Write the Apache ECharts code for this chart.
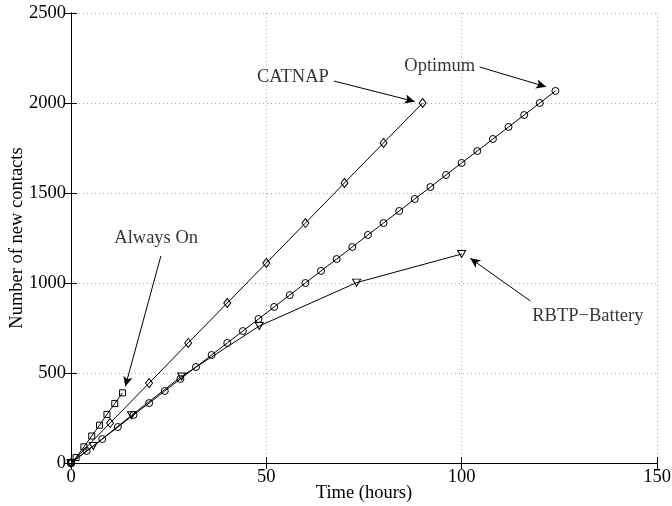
<!DOCTYPE html>
<html>
<head>
<meta charset="utf-8">
<script src="https://cdn.jsdelivr.net/npm/echarts@6/dist/echarts.min.js"></script>
<style>
  html, body { margin: 0; padding: 0; background: #fff; }
  #chart { width: 672px; height: 506px; }
</style>
</head>
<body>
<div id="chart"></div>
<script>
// Cumulative number of new contacts over time for four strategies
const alwaysOnHours = [0, 1.3, 3.3, 5.3, 7.3, 9.2, 11.2, 13.2];
const alwaysOnContacts = [0, 30, 90, 150, 210, 270, 330, 390];

const catnapHours = [0, 10, 20, 30, 40, 50, 60, 70, 80, 90];
const catnapContacts = [0, 222, 444, 667, 889, 1111, 1333, 1556, 1778, 2000];

const optimumHours = [0, 4, 8, 12, 16, 20, 24, 28, 32, 36, 40, 44, 48, 52, 56, 60,
  64, 68, 72, 76, 80, 84, 88, 92, 96, 100, 104, 108, 112, 116, 120, 124];
const optimumContacts = [0, 67, 133, 200, 267, 333, 400, 467, 533, 600, 667, 733, 800, 867, 933, 1000,
  1067, 1133, 1200, 1267, 1333, 1400, 1467, 1533, 1600, 1667, 1733, 1800, 1867, 1933, 2000, 2067];

const rbtpHours = [0, 5.7, 15.5, 28.3, 48.2, 73.1, 100];
const rbtpContacts = [0, 94, 265, 481, 761, 1002, 1161];

const xTicks = [0, 50, 100, 150];
const yTicks = [0, 500, 1000, 1500, 2000, 2500];

// Callout labels with their arrows, in data units
const callouts = [
  { text: 'Always On',    at: [21.8, 1248], from: [23.0, 1150], to: [13.9, 425] },
  { text: 'CATNAP',       at: [56.8, 2144], from: [67.3, 2122], to: [88.0, 2008] },
  { text: 'Optimum',      at: [94.4, 2203], from: [104.6, 2200], to: [121.6, 2090] },
  { text: 'RBTP\u2212Battery', at: [132.3, 815], from: [117.6, 900], to: [102.2, 1137] }
];

const FONT = 'Liberation Serif';
const FS = 18.5;

function pairs(xs, ys) { return xs.map((x, i) => [x, ys[i]]); }

function lineSeries(name, xs, ys, symbol, size, rotate) {
  return {
    name: name,
    type: 'line',
    data: pairs(xs, ys),
    symbol: symbol,
    symbolSize: size,
    symbolRotate: rotate || 0,
    showAllSymbol: true,
    lineStyle: { color: '#000', width: 1 },
    itemStyle: { color: 'rgba(0,0,0,0)', borderColor: '#000', borderWidth: 1 },
    emphasis: { disabled: true },
    z: 3,
    animation: false
  };
}

const chart = echarts.init(document.getElementById('chart'), null, { renderer: 'canvas' });

const axisText = { color: '#000', fontFamily: FONT, fontSize: FS };
const plainNumber = v => String(v);

const option = {
  backgroundColor: '#fff',
  animation: false,
  grid: { left: 71, right: 15, top: 13, bottom: 43, containLabel: false, outerBoundsMode: 'none' },
  xAxis: [
    {
      type: 'value', min: xTicks[0], max: xTicks[xTicks.length - 1], interval: xTicks[1] - xTicks[0],
      position: 'bottom',
      name: 'Time (hours)', nameLocation: 'middle', nameGap: 21, nameMoveOverlap: false,
      nameTextStyle: axisText,
      axisLine: { show: true, lineStyle: { color: '#000', width: 1 } },
      axisTick: { show: true, inside: true, length: 6, lineStyle: { color: '#000' } },
      axisLabel: Object.assign({ margin: 5, formatter: plainNumber }, axisText),
      splitLine: { show: true, lineStyle: { color: '#a8a8a8', type: [1, 3], width: 1 } }
    },
    {
      type: 'value', min: xTicks[0], max: xTicks[xTicks.length - 1], interval: xTicks[1] - xTicks[0],
      position: 'top',
      axisLine: { show: true, lineStyle: { color: '#000', width: 1 } },
      axisTick: { show: true, inside: true, length: 6, lineStyle: { color: '#000' } },
      axisLabel: { show: false },
      splitLine: { show: false }
    }
  ],
  yAxis: [
    {
      type: 'value', min: yTicks[0], max: yTicks[yTicks.length - 1], interval: yTicks[1] - yTicks[0],
      position: 'left',
      name: 'Number of new contacts', nameLocation: 'middle', nameGap: 44, nameMoveOverlap: false,
      nameTextStyle: axisText,
      axisLine: { show: true, lineStyle: { color: '#000', width: 1 } },
      axisTick: { show: true, inside: true, length: 6, lineStyle: { color: '#000' } },
      axisLabel: Object.assign({ margin: 5, formatter: plainNumber }, axisText),
      splitLine: { show: true, lineStyle: { color: '#a8a8a8', type: [1, 3], width: 1 } }
    },
    {
      type: 'value', min: yTicks[0], max: yTicks[yTicks.length - 1], interval: yTicks[1] - yTicks[0],
      position: 'right',
      axisLine: { show: true, lineStyle: { color: '#000', width: 1 } },
      axisTick: { show: true, inside: true, length: 6, lineStyle: { color: '#000' } },
      axisLabel: { show: false },
      splitLine: { show: false }
    }
  ],
  series: [
    lineSeries('Always On', alwaysOnHours, alwaysOnContacts, 'rect', 6),
    lineSeries('CATNAP', catnapHours, catnapContacts, 'diamond', [7, 9]),
    lineSeries('Optimum', optimumHours, optimumContacts, 'circle', 7),
    lineSeries('RBTP\u2212Battery', rbtpHours, rbtpContacts, 'triangle', [8, 7], 180),
    {
      name: 'callouts',
      type: 'scatter',
      data: callouts.map(c => ({ value: c.at, label: { formatter: c.text } })),
      symbolSize: 1,
      itemStyle: { color: 'rgba(0,0,0,0)' },
      label: { show: true, position: 'inside', color: '#000', fontFamily: FONT, fontSize: FS },
      silent: true,
      z: 5,
      markLine: {
        silent: true,
        symbol: ['none', 'arrow'],
        symbolSize: [7, 10],
        lineStyle: { color: '#000', width: 1, type: 'solid' },
        label: { show: false },
        animation: false,
        data: callouts.map(c => [{ coord: c.from }, { coord: c.to }])
      }
    }
  ]
};

chart.setOption(option);
</script>
</body>
</html>
